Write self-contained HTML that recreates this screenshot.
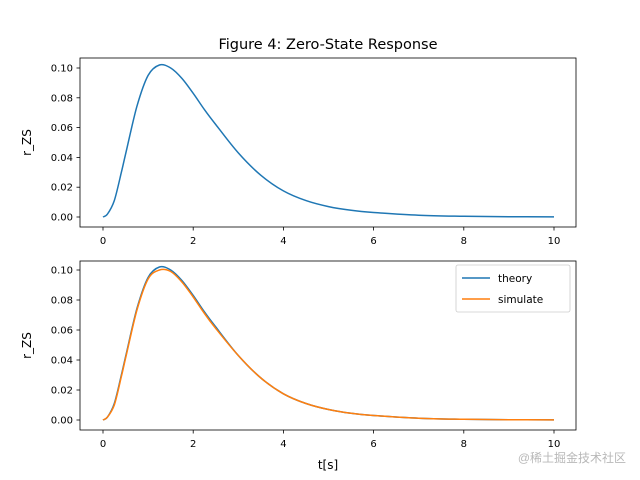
<!DOCTYPE html>
<html><head><meta charset="utf-8"><style>
body{margin:0;background:#fff;}
svg{display:block;font-family:"DejaVu Sans","Liberation Sans",sans-serif;}
</style></head><body>
<svg id="fig" width="640" height="480" viewBox="0 0 640 480" xmlns="http://www.w3.org/2000/svg">
<rect width="640" height="480" fill="#fff"/>
<text x="328" y="49" font-size="14.5" text-anchor="middle">Figure 4: Zero-State Response</text>
<g id="top"></g>
<g id="bot"></g>
<text x="328" y="469" font-size="12" text-anchor="middle">t[s]</text>
<text x="626" y="462" font-size="12" fill="#b8b8b8" text-anchor="end" font-family="'Liberation Sans','Noto Sans CJK SC',sans-serif">@稀土掘金技术社区</text>
</svg>
<script>
const tValues=[0,0.1,0.25,0.4,0.5,0.75,1,1.25,1.5,1.75,2,2.25,2.5,3,3.5,4,4.5,5,5.5,6,7,8,9,10];
const theory=[0,0.002,0.011,0.029,0.042,0.074,0.095,0.102,0.1,0.093,0.083,0.072,0.062,0.043,0.028,0.0175,0.011,0.007,0.0045,0.003,0.0012,0.0005,0.0002,0.0001];
const simulate=[0,0.002,0.010,0.028,0.041,0.073,0.094,0.1,0.099,0.092,0.082,0.071,0.061,0.043,0.028,0.0175,0.011,0.007,0.0045,0.003,0.0012,0.0005,0.0002,0.0001];
const xTicks=[0,2,4,6,8,10];
const yTicks=[0,0.02,0.04,0.06,0.08,0.10];
const NS="http://www.w3.org/2000/svg";
function mk(tag,attrs,parent){const e=document.createElementNS(NS,tag);for(const k in attrs)e.setAttribute(k,attrs[k]);parent.appendChild(e);return e;}
function xs(t){return 103+t*45.1;}
function smooth(pts){
  let d='M'+pts[0][0].toFixed(1)+','+pts[0][1].toFixed(1);
  for(let i=0;i<pts.length-1;i++){
    const p0=pts[Math.max(0,i-1)],p1=pts[i],p2=pts[i+1],p3=pts[Math.min(pts.length-1,i+2)];
    const c1=[p1[0]+(p2[0]-p0[0])/6,p1[1]+(p2[1]-p0[1])/6];
    const c2=[p2[0]-(p3[0]-p1[0])/6,p2[1]-(p3[1]-p1[1])/6];
    d+='C'+c1.map(v=>v.toFixed(1)).join(',')+' '+c2.map(v=>v.toFixed(1)).join(',')+' '+p2[0].toFixed(1)+','+p2[1].toFixed(1);
  }
  return d;
}
function drawAxes(g,top,bottom,zeroY,unit,series,legend){
  const ys=v=>zeroY-v*unit;
  const frame=mk('rect',{x:80,y:top,width:496,height:bottom-top,fill:'none',stroke:'#000','stroke-width':0.8},g);
  
  
  xTicks.forEach(t=>{
    const l=mk('line',{x1:xs(t),x2:xs(t),y1:bottom,y2:bottom+3.5,stroke:'#000','stroke-width':0.8},g);
    
    
    const tx=mk('text',{x:xs(t),y:bottom+17,'font-size':10,'text-anchor':'middle'},g);
    tx.textContent=t;
    
    
  });
  yTicks.forEach(v=>{
    const l=mk('line',{x1:76.5,x2:80,y1:ys(v),y2:ys(v),stroke:'#000','stroke-width':0.8},g);
    
    
    const tx=mk('text',{x:73,y:ys(v)+3.5,'font-size':10,'text-anchor':'end'},g);
    tx.textContent=v.toFixed(2);
    
    
  });
  const yl=mk('text',{x:0,y:0,'font-size':12,'text-anchor':'middle',transform:`translate(31,${(top+bottom)/2}) rotate(-90)`},g);
  yl.textContent='r_ZS';
  
  
  series.forEach(s=>{
    const pts=tValues.map((t,i)=>[xs(t),ys(s.vals[i])]);
    const p=mk('path',{d:smooth(pts),fill:'none',stroke:s.color,'stroke-width':1.5,'stroke-linejoin':'round'},g);
    
    
  });
  if(legend){
    const lg=mk('g',{},g);
    
    
    mk('rect',{x:456,y:265,width:114,height:47,rx:2,fill:'#fff',stroke:'#ccc','stroke-width':0.8},lg);
    series.forEach((s,i)=>{
      const y=278+i*21;
      const e=mk('g',{},lg);
      
      
      mk('line',{x1:462,x2:490,y1:y,y2:y,stroke:s.color,'stroke-width':1.5},e);
      const t=mk('text',{x:498,y:y+4,'font-size':10.5},e);
      t.textContent=s.name;
    });
  }
}
drawAxes(document.getElementById('top'),58,227,217,1490,[{name:'theory',vals:theory,color:'#1f77b4'}],false);
drawAxes(document.getElementById('bot'),261,430,420,1500,[{name:'theory',vals:theory,color:'#1f77b4'},{name:'simulate',vals:simulate,color:'#ff7f0e'}],true);
</script>
</body></html>
